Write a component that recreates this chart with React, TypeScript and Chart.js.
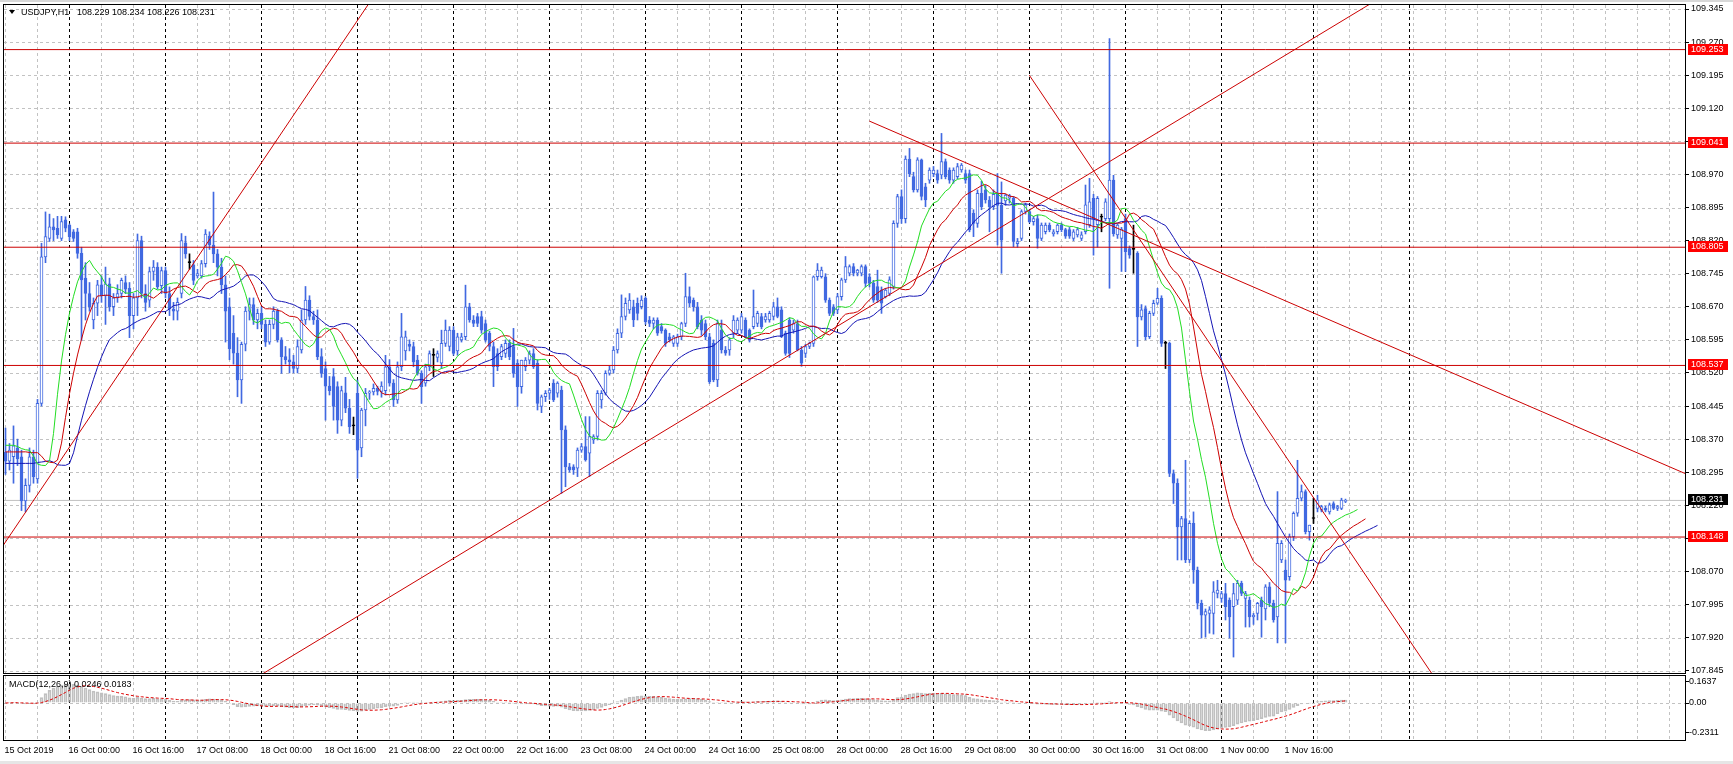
import React, { useEffect, useRef } from 'react';
import { Chart, registerables } from 'chart.js';

Chart.register(...registerables);

const FONT = '"Liberation Sans", Arial, sans-serif';
const BLUE = '#4169e1';
const LINE_RED = '#cc0000';
const GRID = '#c2c2c2';

// ---------- OHLC (H1 bars, 15 Oct 08:00 .. 4 Nov) ----------
const open = [
  // 15 Oct
  108.340, 108.320, 108.330, 108.350, 108.330, 108.230, 108.265, 108.330, 108.280, 108.451, 108.783, 108.825, 108.851, 108.848, 108.825, 108.867,
  // 16 Oct
  108.855, 108.840, 108.840, 108.791, 108.735, 108.700, 108.640, 108.678, 108.720, 108.695, 108.722, 108.670, 108.692, 108.700, 108.725, 108.712, 108.650, 108.690, 108.820, 108.700, 108.685, 108.750, 108.760, 108.718,
  // 17 Oct
  108.752, 108.700, 108.665, 108.660, 108.700, 108.815, 108.770, 108.765, 108.740, 108.740, 108.768, 108.830, 108.810, 108.790, 108.760, 108.720, 108.670, 108.610, 108.565, 108.504, 108.585, 108.660, 108.675, 108.640,
  // 18 Oct
  108.655, 108.630, 108.590, 108.630, 108.660, 108.595, 108.557, 108.550, 108.545, 108.530, 108.572, 108.640, 108.685, 108.648, 108.640, 108.557, 108.530, 108.490, 108.512, 108.489, 108.413, 108.475, 108.440, 108.400,
  // 21 Oct
  108.474, 108.350, 108.436, 108.474, 108.477, 108.485, 108.478, 108.480, 108.534, 108.497, 108.459, 108.534, 108.570, 108.585, 108.580, 108.549, 108.519, 108.497, 108.534, 108.560, 108.555, 108.542, 108.587, 108.580,
  // 22 Oct
  108.617, 108.570, 108.595, 108.602, 108.670, 108.640, 108.648, 108.648, 108.632, 108.610, 108.580, 108.564, 108.557, 108.564, 108.587, 108.580, 108.542, 108.489, 108.534, 108.549, 108.564, 108.542, 108.444, 108.466,
  // 23 Oct
  108.474, 108.497, 108.474, 108.481, 108.391, 108.307, 108.307, 108.304, 108.345, 108.353, 108.338, 108.368, 108.376, 108.459, 108.474, 108.519, 108.527, 108.572, 108.610, 108.648, 108.663, 108.670, 108.678, 108.670,
  // 24 Oct
  108.689, 108.640, 108.632, 108.640, 108.625, 108.617, 108.602, 108.587, 108.587, 108.602, 108.632, 108.693, 108.685, 108.670, 108.640, 108.632, 108.602, 108.587, 108.504, 108.617, 108.572, 108.572, 108.610, 108.617,
  // 25 Oct
  108.617, 108.640, 108.617, 108.625, 108.632, 108.648, 108.640, 108.640, 108.648, 108.670, 108.663, 108.610, 108.640, 108.617, 108.632, 108.572, 108.564, 108.580, 108.587, 108.738, 108.738, 108.738, 108.685, 108.670,
  // 28 Oct
  108.663, 108.693, 108.731, 108.746, 108.761, 108.746, 108.746, 108.761, 108.738, 108.723, 108.716, 108.708, 108.693, 108.700, 108.716, 108.859, 108.920, 108.870, 109.005, 108.965, 108.935, 109.003, 108.942, 108.957,
  // 29 Oct
  108.972, 108.972, 108.969, 108.999, 108.980, 108.957, 108.965, 108.980, 108.972, 108.972, 108.882, 108.859, 108.927, 108.935, 108.912, 108.897, 108.925, 108.900, 108.910, 108.916, 108.916, 108.813, 108.825, 108.886,
  // 30 Oct
  108.886, 108.863, 108.870, 108.825, 108.840, 108.855, 108.835, 108.840, 108.855, 108.845, 108.845, 108.825, 108.833, 108.825, 108.840, 108.856, 108.916, 108.856, 108.873, 108.870, 108.870, 108.957, 108.833, 108.825,
  // 31 Oct
  108.870, 108.802, 108.800, 108.791, 108.647, 108.666, 108.602, 108.655, 108.678, 108.689, 108.587, 108.587, 108.292, 108.270, 108.171, 108.190, 108.096, 108.179, 108.073, 107.998, 107.971, 107.975, 107.975, 108.020,
  // 1 Nov
  108.009, 108.020, 108.005, 107.990, 108.005, 108.043, 108.009, 108.005, 107.967, 107.975, 108.005, 107.985, 108.035, 107.998, 107.967, 108.096, 108.073, 108.058, 108.149, 108.202, 108.236, 108.251, 108.160,
  // 4 Nov
  108.190, 108.213, 108.209, 108.213, 108.205, 108.224, 108.213, 108.213, 108.229,
];

const high = [
  108.395, 108.360, 108.400, 108.370, 108.345, 108.280, 108.350, 108.345, 108.460, 108.814, 108.885, 108.880, 108.870, 108.875, 108.875, 108.874,
  108.858, 108.845, 108.848, 108.805, 108.770, 108.725, 108.690, 108.730, 108.740, 108.760, 108.735, 108.700, 108.720, 108.735, 108.740, 108.725, 108.700, 108.835, 108.830, 108.720, 108.760, 108.775, 108.770, 108.760,
  108.760, 108.715, 108.680, 108.690, 108.836, 108.830, 108.790, 108.775, 108.755, 108.775, 108.845, 108.840, 108.930, 108.800, 108.780, 108.740, 108.690, 108.650, 108.600, 108.590, 108.670, 108.690, 108.690, 108.665,
  108.670, 108.640, 108.640, 108.670, 108.665, 108.600, 108.580, 108.575, 108.560, 108.595, 108.663, 108.716, 108.695, 108.660, 108.663, 108.575, 108.545, 108.512, 108.530, 108.500, 108.490, 108.510, 108.460, 108.420,
  108.504, 108.440, 108.485, 108.480, 108.495, 108.490, 108.500, 108.560, 108.550, 108.505, 108.545, 108.655, 108.615, 108.595, 108.590, 108.560, 108.525, 108.540, 108.570, 108.575, 108.570, 108.617, 108.640, 108.625,
  108.625, 108.610, 108.610, 108.719, 108.678, 108.650, 108.655, 108.660, 108.640, 108.615, 108.590, 108.575, 108.585, 108.595, 108.595, 108.621, 108.550, 108.549, 108.555, 108.570, 108.575, 108.550, 108.470, 108.480,
  108.485, 108.505, 108.500, 108.490, 108.400, 108.315, 108.312, 108.350, 108.360, 108.421, 108.421, 108.380, 108.480, 108.480, 108.525, 108.535, 108.580, 108.620, 108.697, 108.690, 108.700, 108.685, 108.690, 108.695,
  108.693, 108.648, 108.645, 108.645, 108.632, 108.620, 108.610, 108.605, 108.608, 108.635, 108.746, 108.715, 108.690, 108.680, 108.650, 108.640, 108.610, 108.595, 108.640, 108.640, 108.580, 108.600, 108.650, 108.645,
  108.655, 108.645, 108.620, 108.708, 108.660, 108.655, 108.655, 108.660, 108.680, 108.690, 108.670, 108.615, 108.645, 108.640, 108.640, 108.580, 108.585, 108.590, 108.740, 108.768, 108.760, 108.745, 108.690, 108.675,
  108.700, 108.735, 108.784, 108.765, 108.768, 108.755, 108.765, 108.765, 108.745, 108.730, 108.753, 108.715, 108.712, 108.738, 108.865, 108.925, 108.935, 109.012, 109.029, 108.975, 109.008, 109.005, 108.950, 108.985,
  108.988, 108.980, 109.063, 109.005, 108.985, 108.985, 108.995, 108.995, 108.980, 108.980, 108.890, 108.935, 108.955, 108.945, 108.920, 108.935, 108.972, 108.953, 108.925, 108.925, 108.920, 108.825, 108.890, 108.905,
  108.890, 108.875, 108.878, 108.860, 108.860, 108.860, 108.845, 108.858, 108.860, 108.848, 108.850, 108.845, 108.850, 108.840, 108.946, 108.961, 108.925, 108.920, 108.880, 108.915, 109.278, 108.968, 108.858, 108.850,
  108.880, 108.808, 108.855, 108.795, 108.675, 108.672, 108.660, 108.685, 108.712, 108.695, 108.592, 108.590, 108.300, 108.280, 108.195, 108.322, 108.185, 108.205, 108.080, 108.005, 107.985, 107.990, 108.047, 108.050,
  108.025, 108.043, 108.010, 108.043, 108.050, 108.048, 108.025, 108.012, 107.975, 108.000, 108.012, 108.040, 108.045, 108.005, 108.251, 108.140, 108.096, 108.155, 108.205, 108.322, 108.266, 108.255, 108.175,
  108.236, 108.243, 108.220, 108.218, 108.225, 108.228, 108.220, 108.236, 108.234,
];

const low = [
  108.290, 108.300, 108.270, 108.310, 108.208, 108.205, 108.250, 108.270, 108.270, 108.445, 108.770, 108.818, 108.820, 108.825, 108.820, 108.840,
  108.820, 108.818, 108.780, 108.594, 108.640, 108.660, 108.620, 108.650, 108.680, 108.630, 108.660, 108.650, 108.680, 108.690, 108.700, 108.600, 108.620, 108.650, 108.690, 108.660, 108.670, 108.730, 108.710, 108.700,
  108.690, 108.650, 108.640, 108.640, 108.690, 108.780, 108.755, 108.720, 108.735, 108.735, 108.760, 108.800, 108.770, 108.740, 108.700, 108.590, 108.550, 108.540, 108.466, 108.451, 108.570, 108.640, 108.630, 108.620,
  108.620, 108.580, 108.585, 108.620, 108.590, 108.519, 108.540, 108.520, 108.520, 108.520, 108.565, 108.630, 108.640, 108.630, 108.550, 108.510, 108.413, 108.470, 108.413, 108.383, 108.400, 108.430, 108.383, 108.380,
  108.281, 108.330, 108.400, 108.460, 108.470, 108.470, 108.465, 108.470, 108.490, 108.444, 108.451, 108.525, 108.549, 108.570, 108.534, 108.515, 108.451, 108.490, 108.525, 108.512, 108.545, 108.530, 108.580, 108.570,
  108.560, 108.560, 108.590, 108.595, 108.635, 108.625, 108.625, 108.610, 108.590, 108.570, 108.489, 108.525, 108.550, 108.555, 108.550, 108.510, 108.444, 108.474, 108.525, 108.540, 108.530, 108.436, 108.430, 108.455,
  108.460, 108.455, 108.465, 108.247, 108.262, 108.295, 108.290, 108.285, 108.340, 108.320, 108.285, 108.360, 108.368, 108.440, 108.470, 108.515, 108.520, 108.565, 108.600, 108.640, 108.655, 108.625, 108.640, 108.665,
  108.630, 108.625, 108.620, 108.605, 108.610, 108.580, 108.590, 108.580, 108.580, 108.595, 108.625, 108.670, 108.660, 108.620, 108.605, 108.595, 108.496, 108.500, 108.489, 108.565, 108.560, 108.560, 108.600, 108.610,
  108.610, 108.600, 108.590, 108.620, 108.625, 108.620, 108.635, 108.635, 108.640, 108.645, 108.600, 108.560, 108.555, 108.610, 108.570, 108.535, 108.555, 108.575, 108.580, 108.730, 108.735, 108.680, 108.650, 108.650,
  108.655, 108.685, 108.725, 108.740, 108.740, 108.740, 108.740, 108.715, 108.715, 108.680, 108.680, 108.655, 108.690, 108.695, 108.710, 108.850, 108.859, 108.860, 108.965, 108.930, 108.930, 108.912, 108.897, 108.950,
  108.965, 108.950, 108.960, 108.960, 108.950, 108.950, 108.960, 108.975, 108.950, 108.840, 108.829, 108.850, 108.890, 108.905, 108.840, 108.890, 108.810, 108.746, 108.900, 108.905, 108.806, 108.805, 108.820, 108.880,
  108.860, 108.855, 108.803, 108.820, 108.835, 108.840, 108.830, 108.835, 108.840, 108.825, 108.825, 108.820, 108.828, 108.820, 108.835, 108.850, 108.787, 108.805, 108.840, 108.865, 108.712, 108.830, 108.825, 108.750,
  108.750, 108.780, 108.746, 108.580, 108.640, 108.595, 108.598, 108.650, 108.675, 108.580, 108.530, 108.285, 108.224, 108.096, 108.096, 108.090, 108.090, 108.043, 107.985, 107.919, 107.921, 107.930, 107.928, 108.010,
  108.000, 107.960, 107.919, 107.876, 107.995, 108.015, 107.944, 107.944, 107.950, 107.960, 107.921, 107.960, 107.990, 107.955, 107.908, 108.090, 107.908, 108.050, 108.140, 108.195, 108.230, 108.155, 108.141,
  108.179, 108.205, 108.205, 108.205, 108.200, 108.210, 108.208, 108.210, 108.226,
];

const close = [
  108.320, 108.345, 108.355, 108.325, 108.230, 108.265, 108.330, 108.285, 108.451, 108.783, 108.829, 108.851, 108.844, 108.833, 108.863, 108.848,
  108.829, 108.825, 108.791, 108.731, 108.700, 108.670, 108.678, 108.720, 108.695, 108.722, 108.670, 108.690, 108.700, 108.730, 108.710, 108.650, 108.690, 108.820, 108.700, 108.680, 108.750, 108.760, 108.715, 108.752,
  108.700, 108.665, 108.660, 108.680, 108.820, 108.790, 108.770, 108.730, 108.745, 108.768, 108.835, 108.810, 108.790, 108.760, 108.720, 108.660, 108.575, 108.565, 108.504, 108.585, 108.660, 108.675, 108.640, 108.655,
  108.630, 108.590, 108.630, 108.660, 108.595, 108.557, 108.550, 108.545, 108.530, 108.580, 108.640, 108.685, 108.648, 108.640, 108.557, 108.519, 108.490, 108.480, 108.444, 108.413, 108.480, 108.440, 108.398, 108.400,
  108.345, 108.436, 108.474, 108.477, 108.485, 108.478, 108.490, 108.534, 108.497, 108.459, 108.534, 108.602, 108.602, 108.580, 108.545, 108.519, 108.489, 108.534, 108.564, 108.560, 108.564, 108.587, 108.617, 108.617,
  108.564, 108.602, 108.602, 108.670, 108.640, 108.632, 108.632, 108.617, 108.595, 108.580, 108.534, 108.534, 108.580, 108.587, 108.557, 108.519, 108.489, 108.549, 108.549, 108.564, 108.534, 108.451, 108.466, 108.474,
  108.481, 108.459, 108.497, 108.391, 108.307, 108.300, 108.300, 108.345, 108.353, 108.323, 108.376, 108.376, 108.474, 108.474, 108.519, 108.527, 108.572, 108.610, 108.648, 108.678, 108.685, 108.640, 108.655, 108.685,
  108.636, 108.632, 108.640, 108.610, 108.615, 108.587, 108.595, 108.602, 108.602, 108.632, 108.693, 108.678, 108.670, 108.625, 108.617, 108.602, 108.500, 108.504, 108.632, 108.572, 108.565, 108.595, 108.640, 108.640,
  108.648, 108.602, 108.595, 108.648, 108.655, 108.625, 108.648, 108.655, 108.670, 108.648, 108.602, 108.564, 108.564, 108.632, 108.572, 108.542, 108.580, 108.587, 108.738, 108.753, 108.753, 108.685, 108.655, 108.655,
  108.693, 108.731, 108.761, 108.761, 108.746, 108.753, 108.761, 108.723, 108.723, 108.685, 108.685, 108.678, 108.708, 108.731, 108.859, 108.920, 108.870, 109.005, 108.972, 108.935, 109.003, 108.920, 108.912, 108.980,
  108.980, 108.957, 108.999, 108.965, 108.957, 108.980, 108.988, 108.991, 108.957, 108.844, 108.859, 108.927, 108.897, 108.912, 108.897, 108.925, 108.900, 108.821, 108.923, 108.922, 108.818, 108.818, 108.886, 108.901,
  108.863, 108.870, 108.825, 108.855, 108.855, 108.844, 108.840, 108.855, 108.845, 108.830, 108.830, 108.840, 108.845, 108.833, 108.901, 108.908, 108.870, 108.916, 108.873, 108.908, 108.957, 108.836, 108.855, 108.846,
  108.795, 108.787, 108.800, 108.647, 108.663, 108.602, 108.655, 108.678, 108.689, 108.587, 108.587, 108.292, 108.270, 108.171, 108.190, 108.096, 108.179, 108.073, 107.998, 107.971, 107.979, 107.983, 108.024, 108.028,
  108.020, 107.990, 107.967, 108.020, 108.043, 108.020, 108.020, 107.967, 107.971, 107.998, 107.990, 108.035, 107.998, 107.960, 108.134, 108.134, 108.050, 108.149, 108.202, 108.236, 108.251, 108.160, 108.175,
  108.190, 108.232, 108.217, 108.209, 108.221, 108.213, 108.217, 108.232, 108.231,
];

// ---------- objects drawn on the chart ----------
const levels = [109.253, 109.041, 108.805, 108.537, 108.148];
const bidPrice = 108.231;
// trend lines: [barIndex, price] pairs
const trendLines = [
  [[-2, 108.110], [92, 109.373]],
  [[55, 107.787], [350, 109.405]],
  [[215.95, 109.091], [425, 108.272]],
  [[255.95, 109.195], [365, 107.725]],
];
const alligatorStart = { jaw: 108.315, teeth: 108.341, lips: 108.356 };

// ---------- axes ----------
const priceTicks = [107.845, 107.920, 107.995, 108.070, 108.145, 108.220, 108.295, 108.370, 108.445, 108.520, 108.595,
  108.670, 108.745, 108.820, 108.895, 108.970, 109.045, 109.120, 109.195, 109.270, 109.345];
const timeLabelBars = [0, 16, 32, 48, 64, 80, 96, 112, 128, 144, 160, 176, 192, 208, 224, 240, 256, 272, 288, 304, 320];
const timeLabels = ['15 Oct 2019', '16 Oct 00:00', '16 Oct 16:00', '17 Oct 08:00', '18 Oct 00:00', '18 Oct 16:00',
  '21 Oct 08:00', '22 Oct 00:00', '22 Oct 16:00', '23 Oct 08:00', '24 Oct 00:00', '24 Oct 16:00', '25 Oct 08:00',
  '28 Oct 00:00', '28 Oct 16:00', '29 Oct 08:00', '30 Oct 00:00', '30 Oct 16:00', '31 Oct 08:00', '1 Nov 00:00', '1 Nov 16:00'];
const daySeparatorBars = [16, 40, 64, 88, 112, 136, 160, 184, 208, 232, 256, 280, 304, 327, 351];
const macdTickValues = [0.1637, 0, -0.2311];
const macdTickLabels = ['0.1637', '0.00', '-0.2311'];
const headerSymbol = 'USDJPY,H1';
const headerPrices = '108.229 108.234 108.226 108.231';
const macdTitle = 'MACD(12,26,9) 0.0246 0.0183';

const X_MIN = -0.375;
const X_MAX = 419.875;
const Y_MIN = 107.8398;
const Y_MAX = 109.3541;
const MACD_MIN = -0.2864;
const MACD_MAX = 0.2090;
const GRID_STEP = 8;

// ---------- indicators derived from the price data ----------
const median = high.map((h, i) => (h + low[i]) / 2);
function smmaLine(n: number, shift: number, seed: number) {
  let v = seed;
  const pts: any[] = [];
  for (let j = 0; j < shift; j++) pts.push({ x: j, y: seed });
  median.forEach((m, i) => { v = (v * (n - 1) + m) / n; pts.push({ x: i + shift, y: v }); });
  return pts;
}
function ema(src: number[], n: number) {
  const k = 2 / (n + 1);
  let v = src[0];
  return src.map((x) => (v = v + k * (x - v)));
}
const e12 = ema(close, 12);
const e26 = ema(close, 26);
const macdMain = close.map((_, i) => e12[i] - e26[i]);
const macdSignal = macdMain.map((_, i) => {
  const w = macdMain.slice(Math.max(0, i - 8), i + 1);
  return w.reduce((a, b) => a + b, 0) / w.length;
});

const isDoji = (i: number) => open[i] === close[i];

function gridPlugin(hValues: number[]) {
  return {
    id: 'mtGrid',
    beforeDatasetsDraw(chart: any) {
      const { ctx, chartArea: a, scales } = chart;
      const x = scales.x, y = scales.y;
      ctx.save();
      ctx.beginPath();
      ctx.rect(a.left, a.top, a.right - a.left, a.bottom - a.top);
      ctx.clip();
      ctx.lineWidth = 1;
      ctx.setLineDash([3, 3]);
      ctx.strokeStyle = GRID;
      ctx.beginPath();
      for (const v of hValues) {
        const py = Math.round(y.getPixelForValue(v)) + 0.5;
        ctx.moveTo(a.left, py); ctx.lineTo(a.right, py);
      }
      for (let b = 0; b <= X_MAX; b += GRID_STEP) {
        if (daySeparatorBars.includes(b)) continue;
        const px = Math.floor(x.getPixelForValue(b)) + 0.5;
        ctx.moveTo(px, a.top); ctx.lineTo(px, a.bottom);
      }
      ctx.stroke();
      ctx.strokeStyle = '#000';
      ctx.beginPath();
      for (const b of daySeparatorBars) {
        const px = Math.floor(x.getPixelForValue(b)) + 0.5;
        ctx.moveTo(px, a.top); ctx.lineTo(px, a.bottom);
      }
      ctx.stroke();
      ctx.restore();
    },
    afterDraw(chart: any) {
      const { ctx, chartArea: a } = chart;
      ctx.save();
      ctx.setLineDash([]);
      ctx.strokeStyle = '#000';
      ctx.lineWidth = 1;
      ctx.strokeRect(a.left - 0.5, a.top - 0.5, a.right - a.left + 1, a.bottom - a.top + 1);
      ctx.restore();
    },
  };
}

const mainLabels = {
  id: 'mainLabels',
  afterDraw(chart: any) {
    const { ctx, chartArea: a, scales } = chart;
    const y = scales.y;
    ctx.save();
    ctx.font = `9px ${FONT}`;
    ctx.textBaseline = 'middle';
    ctx.textAlign = 'left';
    for (const lvl of levels) {
      const py = Math.round(y.getPixelForValue(lvl));
      ctx.fillStyle = '#ff0000';
      ctx.fillRect(a.right + 3, py - 6, 40, 11);
      ctx.fillStyle = '#ffffff';
      ctx.fillText(lvl.toFixed(3), a.right + 6, py);
    }
    const by = Math.round(y.getPixelForValue(bidPrice));
    ctx.fillStyle = '#000000';
    ctx.fillRect(a.right + 3, by - 6, 40, 11);
    ctx.fillStyle = '#ffffff';
    ctx.fillText(bidPrice.toFixed(3), a.right + 6, by);
    // header
    ctx.fillStyle = '#000';
    ctx.beginPath();
    ctx.moveTo(9, 10); ctx.lineTo(15, 10); ctx.lineTo(12, 14); ctx.closePath();
    ctx.fill();
    ctx.fillText(headerSymbol, 21, 12.5);
    ctx.fillText(headerPrices, 77, 12.5);
    ctx.restore();
  },
};

const macdLabels = {
  id: 'macdLabels',
  afterDraw(chart: any) {
    const { ctx } = chart;
    ctx.save();
    ctx.font = `9px ${FONT}`;
    ctx.textBaseline = 'middle';
    ctx.textAlign = 'left';
    ctx.fillStyle = '#000';
    ctx.fillText(macdTitle, 9, 11);
    ctx.restore();
  },
};

function lineDs(data: any[], color: string, order: number, extra: any = {}) {
  return { type: 'line', data, borderColor: color, borderWidth: 1, pointRadius: 0, tension: 0, order, clip: 0, ...extra };
}

function mainConfig(): any {
  const idx = close.map((_, i) => i);
  const wick = idx.map((i) => ({ x: i, y: [low[i], high[i]] }));
  const body = idx.map((i) => ({ x: i, y: [open[i], close[i]] }));
  const bodyFill = (c: any) => {
    const i = c.dataIndex;
    if (i === undefined) return BLUE;
    if (isDoji(i)) return '#000';
    return close[i] > open[i] ? '#ffffff' : BLUE;
  };
  const edge = (c: any) => {
    const i = c.dataIndex;
    if (i === undefined) return BLUE;
    return isDoji(i) ? '#000' : BLUE;
  };
  const datasets: any[] = [];
  levels.forEach((l) => datasets.push(lineDs([{ x: X_MIN - 5, y: l }, { x: X_MAX + 5, y: l }], LINE_RED, 1)));
  trendLines.forEach((t) => datasets.push(lineDs(t.map((p) => ({ x: p[0], y: p[1] })), LINE_RED, 1)));
  datasets.push(lineDs(smmaLine(5, 3, alligatorStart.lips), '#22dd22', 2));
  datasets.push(lineDs(smmaLine(8, 5, alligatorStart.teeth), '#cc0000', 2));
  datasets.push(lineDs(smmaLine(13, 8, alligatorStart.jaw), '#1414b4', 2));
  datasets.push({
    type: 'bar', data: body, barThickness: 3, borderWidth: 1, borderColor: edge, backgroundColor: bodyFill,
    borderSkipped: false, grouped: false, minBarLength: 1, order: 3,
  });
  datasets.push({
    type: 'bar', data: wick, barThickness: 1, borderWidth: 0, backgroundColor: edge,
    grouped: false, minBarLength: 1, order: 4,
  });
  datasets.push(lineDs([{ x: X_MIN - 5, y: bidPrice }, { x: X_MAX + 5, y: bidPrice }], '#c0c0c0', 5));

  return {
    type: 'bar',
    data: { datasets },
    options: {
      responsive: false, animation: false, devicePixelRatio: 1, events: [],
      layout: { padding: { left: 4, top: 5, right: 0, bottom: 1 } },
      plugins: { legend: { display: false }, tooltip: { enabled: false }, title: { display: false } },
      scales: {
        x: { type: 'linear', display: false, min: X_MIN, max: X_MAX, offset: false },
        y: {
          type: 'linear', position: 'right', min: Y_MIN, max: Y_MAX, beginAtZero: false,
          afterBuildTicks: (s: any) => { s.ticks = priceTicks.map((v) => ({ value: v })); },
          afterFit: (s: any) => { s.width = 48; s.paddingTop = 0; s.paddingBottom = 0; },
          ticks: {
            autoSkip: false, padding: 2, color: '#000', font: { family: FONT, size: 9 },
            callback: (v: any) => Number(v).toFixed(3),
          },
          grid: { drawOnChartArea: false, drawTicks: true, tickLength: 4, color: '#000' },
          border: { display: false },
        },
      },
    },
    plugins: [gridPlugin(priceTicks), mainLabels],
  };
}

function macdConfig(): any {
  const idx = close.map((_, i) => i);
  return {
    type: 'bar',
    data: {
      datasets: [
        lineDs(idx.map((i) => ({ x: i, y: macdSignal[i] })), '#dd0000', 0, { borderDash: [3, 2] }),
        {
          type: 'bar', data: idx.map((i) => ({ x: i, y: macdMain[i] })), barThickness: 3, borderWidth: 1,
          borderColor: '#c0c0c0', backgroundColor: 'rgba(255,255,255,0)', borderSkipped: 'start',
          grouped: false, order: 1,
        },
      ],
    },
    options: {
      responsive: false, animation: false, devicePixelRatio: 1, events: [],
      layout: { padding: { left: 4, top: 2, right: 0, bottom: 0 } },
      plugins: { legend: { display: false }, tooltip: { enabled: false }, title: { display: false } },
      scales: {
        x: {
          type: 'linear', position: 'bottom', min: X_MIN, max: X_MAX, offset: false,
          afterBuildTicks: (s: any) => { s.ticks = timeLabelBars.map((b) => ({ value: b - 0.25 })); },
          afterFit: (s: any) => { s.height = 24; s.paddingLeft = 0; s.paddingRight = 0; },
          ticks: {
            autoSkip: false, maxRotation: 0, minRotation: 0, align: 'start', padding: 5,
            color: '#000', font: { family: FONT, size: 9 },
            callback: (_v: any, i: number) => timeLabels[i],
          },
          grid: { display: false, drawTicks: false },
          border: { display: false },
        },
        y: {
          type: 'linear', position: 'right', min: MACD_MIN, max: MACD_MAX, beginAtZero: false,
          afterBuildTicks: (s: any) => { s.ticks = macdTickValues.map((v) => ({ value: v })); },
          afterFit: (s: any) => { s.width = 48; s.paddingTop = 0; s.paddingBottom = 0; },
          ticks: {
            autoSkip: false, padding: 0, color: '#000', font: { family: FONT, size: 9 },
            callback: (_v: any, i: number) => macdTickLabels[i],
          },
          grid: { drawOnChartArea: false, drawTicks: true, tickLength: 4, color: '#000' },
          border: { display: false },
        },
      },
    },
    plugins: [gridPlugin([0]), macdLabels],
  };
}

export default function App() {
  const mainRef = useRef<HTMLCanvasElement>(null);
  const macdRef = useRef<HTMLCanvasElement>(null);
  useEffect(() => {
    const c1 = new Chart(mainRef.current as HTMLCanvasElement, mainConfig());
    const c2 = new Chart(macdRef.current as HTMLCanvasElement, macdConfig());
    return () => { c1.destroy(); c2.destroy(); };
  }, []);
  return (
    <div style={{ position: 'absolute', left: 0, top: 0, width: 1733, height: 764, background: '#fff', overflow: 'hidden' }}>
      <div style={{ position: 'absolute', left: 0, top: 0, width: 1733, height: 2, background: '#d8d8d8' }} />
      <canvas ref={mainRef} width={1733} height={674} style={{ position: 'absolute', left: 0, top: 0, width: 1733, height: 674 }} />
      <canvas ref={macdRef} width={1733} height={90} style={{ position: 'absolute', left: 0, top: 674, width: 1733, height: 90 }} />
      <div style={{ position: 'absolute', left: 0, top: 761, width: 1733, height: 3, background: '#e6e6e6' }} />
    </div>
  );
}
